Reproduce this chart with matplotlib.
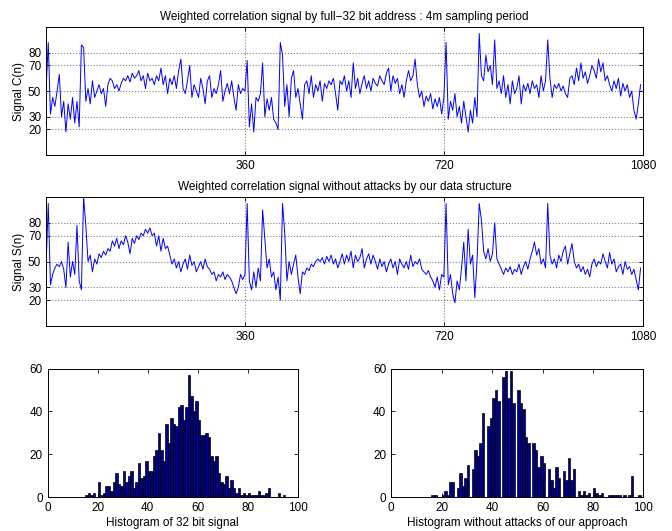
import numpy as np
import matplotlib
matplotlib.use('Agg')
import matplotlib.pyplot as plt

plt.rcParams['font.family'] = ['Liberation Sans', 'DejaVu Sans']

# signal values, one every 4 samples
n = np.arange(0, 1080, 4)

c_signal = [
    50, 88, 32, 45, 38, 50, 63, 30, 42, 18, 40, 28, 45, 25, 42, 22, 86, 84, 42, 52,
    40, 58, 45, 50, 55, 48, 52, 38, 55, 60, 58, 52, 55, 50, 56, 60, 58, 62, 57, 64,
    60, 62, 66, 58, 62, 52, 64, 58, 60, 55, 62, 58, 68, 55, 62, 48, 60, 55, 62, 52,
    66, 75, 52, 48, 58, 70, 45, 55, 50, 45, 60, 52, 40, 58, 62, 45, 52, 48, 55, 66,
    42, 50, 56, 48, 58, 45, 35, 55, 48, 52,
    50, 74, 22, 40, 18, 45, 42, 48, 72, 30, 44, 35, 45, 28, 25, 20, 88, 78, 38, 55,
    30, 60, 66, 45, 52, 40, 28, 55, 58, 48, 62, 45, 55, 50, 58, 42, 56, 52, 58, 55,
    60, 48, 35, 58, 55, 62, 50, 58, 45, 72, 52, 60, 48, 56, 62, 52, 58, 50, 60, 56,
    54, 62, 58, 55, 64, 68, 50, 62, 56, 60, 48, 55, 45, 58, 66, 58, 62, 75, 55, 45,
    50, 38, 46, 42, 48, 36, 44, 38, 45, 32,
    45, 88, 28, 42, 35, 48, 30, 38, 25, 42, 30, 18, 35, 25, 45, 30, 95, 62, 58, 78,
    65, 70, 55, 90, 52, 58, 48, 62, 45, 55, 40, 58, 48, 52, 62, 40, 55, 50, 56, 48,
    58, 52, 55, 45, 62, 50, 58, 90, 60, 45, 55, 52, 56, 50, 54, 48, 45, 60, 62, 55,
    68, 58, 72, 60, 65, 56, 62, 70, 66, 60, 75, 65, 72, 58, 62, 55, 50, 58, 52, 60,
    46, 56, 50, 55, 45, 50, 35, 28, 40, 55,
]

s_signal = [
    45, 95, 32, 40, 45, 48, 46, 50, 44, 30, 65, 38, 50, 40, 78, 35, 28, 100, 78, 50,
    55, 42, 52, 48, 56, 53, 58, 55, 60, 58, 66, 62, 68, 60, 66, 63, 70, 65, 56, 68,
    64, 70, 67, 72, 70, 75, 72, 76, 70, 72, 62, 70, 58, 68, 60, 62, 55, 48, 52, 45,
    50, 42, 48, 52, 44, 55, 47, 50, 42, 46, 50, 44, 52, 46, 44, 40, 42, 35, 40, 38,
    42, 36, 40, 38, 35, 30, 25, 30, 40, 36,
    40, 95, 35, 28, 42, 30, 45, 35, 90, 68, 45, 52, 38, 42, 28, 38, 20, 95, 72, 35,
    50, 40, 48, 55, 38, 25, 42, 40, 45, 43, 48, 46, 50, 52, 50, 53, 48, 54, 50, 55,
    48, 52, 45, 50, 56, 48, 55, 50, 58, 45, 55, 50, 53, 60, 45, 52, 56, 48, 55, 50,
    44, 52, 46, 50, 42, 48, 52, 45, 50, 40, 52, 48, 45, 50, 44, 55, 46, 50, 48, 52,
    44, 42, 40, 43, 38, 35, 30, 38, 28, 40,
    38, 95, 32, 40, 25, 18, 35, 28, 45, 65, 35, 75, 48, 55, 22, 50, 95, 82, 58, 52,
    60, 50, 56, 80, 52, 48, 44, 40, 45, 42, 46, 40, 44, 42, 48, 40, 46, 50, 44, 52,
    58, 65, 55, 60, 48, 52, 45, 95, 55, 48, 52, 45, 55, 50, 58, 62, 48, 56, 64, 50,
    45, 48, 42, 46, 40, 44, 38, 48, 52, 46, 50, 48, 56, 50, 45, 57, 48, 52, 42, 46,
    48, 40, 50, 44, 46, 40, 44, 36, 28, 45,
]

# histogram bar heights, one per unit bin
bins_c = np.arange(15, 95)
counts_c = [
    1, 2, 1, 2, 0, 7, 1, 2, 5, 5, 3, 7, 11, 6, 5, 12, 7, 10, 12, 4,
    7, 16, 9, 10, 17, 12, 12, 19, 22, 30, 22, 17, 34, 25, 37, 34, 33, 42, 43, 36,
    42, 57, 47, 40, 45, 36, 29, 29, 30, 28, 19, 17, 19, 11, 7, 6, 10, 4, 8, 4,
    2, 4, 1, 2, 1, 2, 1, 1, 1, 3, 1, 1, 2, 4, 0, 0, 0, 2, 0, 1,
]

bins_s = np.arange(16, 99)
counts_s = [
    1, 1, 0, 0, 1, 3, 1, 7, 7, 0, 4, 11, 5, 9, 15, 0, 13, 22, 19, 25,
    39, 0, 33, 37, 46, 50, 45, 0, 56, 59, 46, 59, 44, 0, 50, 44, 41, 28, 25, 0,
    25, 22, 14, 19, 16, 0, 13, 8, 4, 14, 9, 0, 12, 8, 18, 8, 13, 0, 3, 1,
    3, 1, 2, 0, 4, 2, 1, 2, 0, 0, 1, 1, 1, 1, 1, 0, 1, 0, 1, 10,
    0, 0, 1,
]

fs = 8.5
fig = plt.figure(figsize=(6.72, 5.31), dpi=100)

def style(ax):
    ax.tick_params(direction='in', top=True, right=True, labelsize=fs, length=3, width=0.6)
    for sp in ax.spines.values():
        sp.set_linewidth(0.7)

def signal_plot(rect, y, title, ylabel):
    ax = fig.add_axes(rect)
    ax.plot(n, y, color='blue', lw=0.7)
    ax.set_xlim(0, 1080)
    ax.set_ylim(0, 100)
    ax.set_xticks([360, 720, 1080])
    ax.set_yticks([20, 30, 50, 70, 80])
    ax.grid(True, linestyle=':', color='gray', lw=0.8)
    ax.set_title(title, fontsize=fs, pad=5)
    ax.set_ylabel(ylabel, fontsize=fs, labelpad=2)
    style(ax)
    return ax

signal_plot([0.0685, 0.708, 0.888, 0.241], c_signal,
            'Weighted correlation signal by full\u221232 bit address : 4m sampling period', 'Signal C(n)')
signal_plot([0.0685, 0.386, 0.888, 0.243], s_signal,
            'Weighted correlation signal without attacks by our data structure', 'Signal S(n)')

def hist_plot(rect, bins, counts, xlabel):
    ax = fig.add_axes(rect)
    ax.bar(bins, counts, width=1, align='edge', color='#000090', edgecolor='black', lw=0.5)
    ax.set_xlim(0, 100)
    ax.set_ylim(0, 60)
    ax.set_xticks(np.arange(0, 101, 20))
    ax.set_yticks([0, 20, 40, 60])
    ax.set_xlabel(xlabel, fontsize=fs, labelpad=2)
    style(ax)
    return ax

hist_plot([0.071, 0.064, 0.372, 0.242], bins_c, counts_c, 'Histogram of 32 bit signal')
hist_plot([0.582, 0.064, 0.3755, 0.242], bins_s, counts_s, 'Histogram without attacks of our approach')

fig.savefig('out.png', dpi=100)
